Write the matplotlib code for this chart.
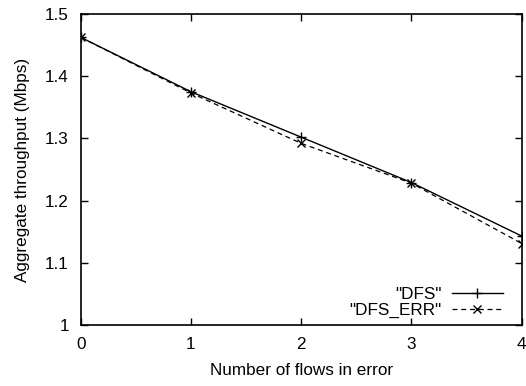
import matplotlib
matplotlib.use("Agg")
import matplotlib.pyplot as plt

plt.rcParams['font.family'] = ['Liberation Sans', 'DejaVu Sans']

flows = [0, 1, 2, 3, 4]
dfs = [1.4625, 1.375, 1.302, 1.229, 1.143]
dfs_err = [1.4625, 1.373, 1.292, 1.228, 1.131]

x_ticks = [0, 1, 2, 3, 4]
y_ticks = [1.0, 1.1, 1.2, 1.3, 1.4, 1.5]
y_tick_labels = ["1", "1.1", "1.2", "1.3", "1.4", "1.5"]

FS = 12.3

fig = plt.figure(figsize=(5.26, 3.86), dpi=100)
ax = fig.add_axes([80.7 / 526, 1 - 325 / 386, (521.7 - 80.7) / 526, (325 - 14) / 386])

ax.plot(flows, dfs, color='black', lw=1.0, marker='+', ms=7, mew=1.0,
        label='"DFS"')
ax.plot(flows, dfs_err, color='black', lw=0.9, ls=(0, (4, 3)), marker='x',
        ms=6, mew=1.0, label='"DFS_ERR"')

ax.set_xlim(0, 4)
ax.set_ylim(1.0, 1.5)
ax.set_xticks(x_ticks)
ax.set_xticklabels([str(t) for t in x_ticks])
ax.set_yticks(y_ticks)
ax.set_yticklabels(y_tick_labels)

ax.tick_params(direction='in', length=5, width=1, top=True, right=True,
               labelsize=FS, pad=8.5, colors='black')
for s in ax.spines.values():
    s.set_linewidth(1.2)

ax.set_xlabel('Number of flows in error', fontsize=FS, labelpad=8)
ax.set_ylabel('Aggregate throughput (Mbps)', fontsize=FS, labelpad=11)

ax.legend(loc='lower right', bbox_to_anchor=(0.973, 0.0), frameon=False,
          markerfirst=False, fontsize=FS, handlelength=3.0,
          handletextpad=0.57, labelspacing=0.05, borderaxespad=0.0)

fig.savefig('out.png', dpi=100)
